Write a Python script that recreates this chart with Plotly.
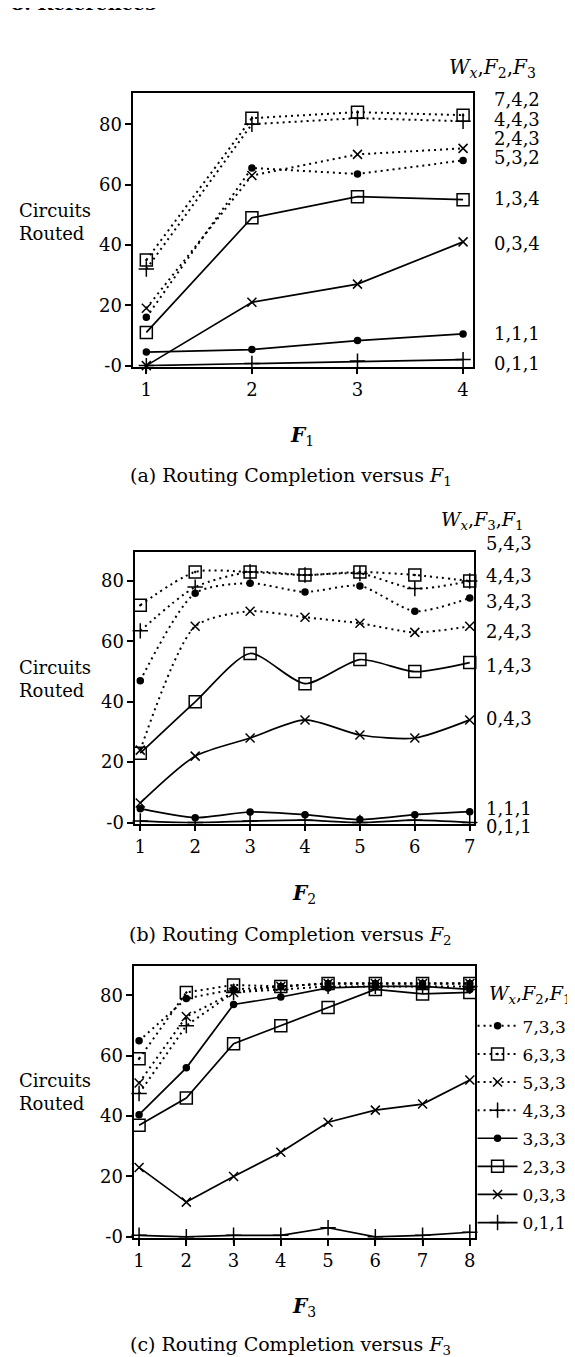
import plotly.graph_objects as go

# ---------------- data ----------------
F1 = [1, 2, 3, 4]
a_742 = [35, 82, 84, 83]
a_443 = [32, 80, 82, 81]
a_243 = [19, 63, 70, 72]
a_532 = [16, 65.5, 63.5, 68]
a_134 = [11, 49, 56, 55]
a_034 = [0, 21, 27, 41]
a_111 = [4.5, 5.3, 8.3, 10.5]
a_011 = [0, 0.7, 1.5, 2]
a_labels = ["7,4,2", "4,4,3", "2,4,3", "5,3,2", "1,3,4", "0,3,4", "1,1,1", "0,1,1"]

F2 = [1, 2, 3, 4, 5, 6, 7]
b_543 = [72, 83, 83, 82, 83, 82, 80]
b_443 = [63.5, 78, 83, 82, 82.5, 77.5, 80]
b_343 = [47, 76, 79.3, 76.4, 78.4, 70, 74.4]
b_243 = [24, 65, 70, 68, 66, 63, 65]
b_143 = [23, 40, 56, 46, 54, 50, 53]
b_043 = [6.5, 22, 28, 34, 29, 28, 34]
b_111 = [4.6, 1.6, 3.5, 2.6, 1, 2.6, 3.6]
b_011 = [0.5, 0, 0.5, 0.8, 0, 0.8, 0]
b_labels = ["5,4,3", "4,4,3", "3,4,3", "2,4,3", "1,4,3", "0,4,3", "1,1,1", "0,1,1"]

F3 = [1, 2, 3, 4, 5, 6, 7, 8]
c_733 = [65, 79, 82, 83, 84, 84, 84, 84]
c_633 = [59, 81, 83.5, 83, 84, 84, 84, 84]
c_533 = [51, 73, 81, 83, 84, 84, 84, 84]
c_433 = [47.5, 70, 81, 82, 83, 83, 83, 83]
c_333 = [40.5, 56, 77, 79.5, 82.5, 83, 83, 82]
c_233 = [37, 46, 64, 70, 76, 82, 80.5, 81]
c_033 = [23, 11.5, 20, 28, 38, 42, 44, 52]
c_011 = [0.5, 0, 0.5, 0.5, 3, 0, 0.5, 1.5]
c_labels = ["7,3,3", "6,3,3", "5,3,3", "4,3,3", "3,3,3", "2,3,3", "0,3,3", "0,1,1"]

y_ticks = [0, 20, 40, 60, 80]
y_ticktext = ["-0", "20", "40", "60", "80"]

# ---------------- styles ----------------
W, H = 575, 1357
FONT = "DejaVu Serif"
DOT = "2px,4px"
# (dash, symbol, size)
STY = {
    "sq_dot": (DOT, "square-open-dot", 12),
    "pl_dot": (DOT, "cross-thin-open", 11),
    "x_dot": (DOT, "x-thin-open", 9),
    "ci_dot": (DOT, "circle", 6),
    "sq": ("solid", "square-open", 12),
    "x": ("solid", "x-thin-open", 9),
    "ci": ("solid", "circle", 6),
    "pl": ("solid", "cross-thin-open", 11),
}

fig = go.Figure()


def add(x, y, sty, xa, ya, name, shape="linear", legend=False):
    dash, sym, size = STY[sty]
    fig.add_trace(go.Scatter(
        x=x, y=y, xaxis=xa, yaxis=ya, name=name, mode="lines+markers",
        line=dict(color="black", width=1.7 if dash == "solid" else 2.0, dash=dash,
                  shape=shape, smoothing=0.7 if shape == "spline" else None),
        marker=dict(symbol=sym, size=size, color="black",
                    line=dict(color="black", width=1.5)),
        showlegend=legend, legendgroup=name if legend else None,
        cliponaxis=False,
    ))


# panel (a)
for ys, st, lb in zip([a_742, a_443, a_243, a_532, a_134, a_034, a_111, a_011],
                      ["sq_dot", "pl_dot", "x_dot", "ci_dot", "sq", "x", "ci", "pl"], a_labels):
    add(F1, ys, st, "x", "y", "a" + lb)
# panel (b)
for ys, st, lb in zip([b_543, b_443, b_343, b_243, b_143, b_043, b_111, b_011],
                      ["sq_dot", "pl_dot", "ci_dot", "x_dot", "sq", "x", "ci", "pl"], b_labels):
    add(F2, ys, st, "x2", "y2", "b" + lb, shape="spline")
# panel (c)
for ys, st, lb in zip([c_733, c_633, c_533, c_433, c_333, c_233, c_033, c_011],
                      ["ci_dot", "sq_dot", "x_dot", "pl_dot", "ci", "sq", "x", "pl"], c_labels):
    add(F3, ys, st, "x3", "y3", lb, legend=True)


def px_x(p):
    return p / W


def px_y(p):
    return 1 - p / H


panels = [
    # x-left, x-right, top, bottom, xrange, yrange
    (125, 466, 86, 361, [0.877, 4.09], [-0.33, 90.2], F1),
    (127, 467, 548, 821, [0.91, 7.07], [-0.33, 89.5], F2),
    (126, 468, 964, 1238, [0.9, 8.1], [-0.33, 89.9], F3),
]

axis_common = dict(showline=True, mirror=True, linecolor="black", linewidth=1.7,
                   showgrid=False, zeroline=False, ticks="outside", ticklen=6,
                   tickwidth=1.6, tickcolor="black",
                   tickfont=dict(family=FONT, size=18, color="black"))
layout = {}
for i, (xl, xr, top, bot, xr_, yr_, xs) in enumerate(panels):
    sfx = "" if i == 0 else str(i + 1)
    layout["xaxis" + sfx] = dict(axis_common, domain=[px_x(xl), px_x(xr)], range=xr_,
                                 tickvals=xs, anchor="y" + sfx)
    layout["yaxis" + sfx] = dict(axis_common, domain=[px_y(bot), px_y(top)], range=yr_,
                                 tickvals=y_ticks, ticktext=y_ticktext, anchor="x" + sfx)

fig.update_layout(**layout)

ann = []


def text(x, y, s, size=18, xanchor="left", yanchor="middle", align="left"):
    ann.append(dict(x=x, y=y, xref="paper", yref="paper", text=s, showarrow=False,
                    xanchor=xanchor, yanchor=yanchor, align=align,
                    font=dict(family=FONT, size=size, color="black")))


# header (cut off at top)
text(px_x(0), px_y(-5), "<b>8. References</b>", size=19)

# right-side labels (pixel rows of the label centres)
a_label_py = [92, 112, 131, 150, 192, 237, 328, 358]
for lb, yy in zip(a_labels, a_label_py):
    text(px_x(486), px_y(yy), lb)
b_label_py = [539, 571, 597, 628, 662, 715, 806, 824]
for lb, yy in zip(b_labels, b_label_py):
    text(px_x(477), px_y(yy), lb)

# headers
HDR = "<i>W</i><sub><i>x</i></sub>,<i>F</i><sub>{}</sub>,<i>F</i><sub>{}</sub>"
text(px_x(440), px_y(60), HDR.format(2, 3), size=20)
text(px_x(432), px_y(516), HDR.format(3, 1), size=19)
text(px_x(481), px_y(993), HDR.format(2, 1), size=19)

# y titles
for yc in [215, 675, 1091]:
    text(px_x(84), px_y(yc), "Circuits<br>Routed", xanchor="right")

# x titles and captions
text(px_x(295), px_y(431), "<b><i>F</i></b><sub>1</sub>", size=20, xanchor="center")
text(px_x(283), px_y(472), "(a) Routing Completion versus <i>F</i><sub>1</sub>", size=19, xanchor="center")
text(px_x(297), px_y(892), "<b><i>F</i></b><sub>2</sub>", size=20, xanchor="center")
text(px_x(283), px_y(934), "(b) Routing Completion versus <i>F</i><sub>2</sub>", size=19, xanchor="center")
text(px_x(297), px_y(1308), "<b><i>F</i></b><sub>3</sub>", size=20, xanchor="center")
text(px_x(283), px_y(1346), "(c) Routing Completion versus <i>F</i><sub>3</sub>", size=19, xanchor="center")

fig.update_layout(
    width=W, height=H, margin=dict(l=0, r=0, t=0, b=0),
    paper_bgcolor="white", plot_bgcolor="white",
    annotations=ann,
    legend=dict(x=px_x(466), y=px_y(1007), xanchor="left", yanchor="top",
                font=dict(family=FONT, size=17, color="black"),
                tracegroupgap=3, itemwidth=40, bgcolor="rgba(0,0,0,0)"),
    font=dict(family=FONT, color="black"),
)

fig.write_html("out.html")
